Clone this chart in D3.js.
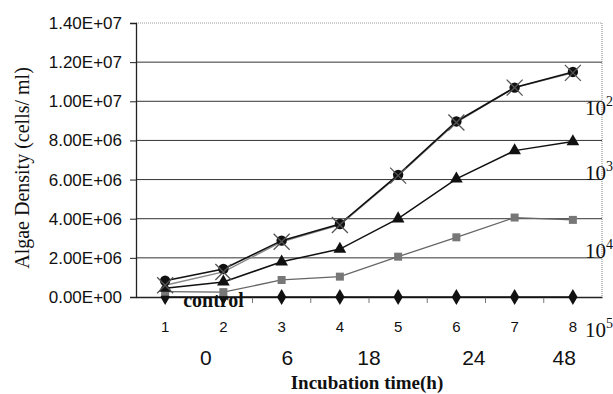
<!DOCTYPE html>
<html>
<head>
<meta charset="utf-8">
<script src="https://cdn.jsdelivr.net/npm/d3@7"></script>
<style>
  body { margin: 0; background: #fff; }
  svg { display: block; }
</style>
</head>
<body>
<script>
// sample number on the x axis, and the incubation hours written below it
let samples = ['1', '2', '3', '4', '5', '6', '7', '8']
let hourLabels = ['0', '6', '18', '24', '48']
let hourAt = [1.7, 3.1, 4.5, 6.3, 7.85]   // where each hour sits, in sample units

let yTicks = [0, 2e6, 4e6, 6e6, 8e6, 1e7, 1.2e7, 1.4e7]

// dilution series (cells/ml)
let circleSeries = [0.83e6, 1.43e6, 2.88e6, 3.73e6, 6.24e6, 8.97e6, 10.7e6, 11.5e6]
let crossSeries = [0.6e6, 1.28e6, 2.82e6, 3.68e6, 6.2e6, 8.92e6, 10.7e6, 11.45e6]
let triangleSeries = [0.45e6, 0.77e6, 1.8e6, 2.45e6, 4.0e6, 6.04e6, 7.48e6, 7.94e6]
let squareSeries = [0.27e6, 0.25e6, 0.87e6, 1.04e6, 2.06e6, 3.05e6, 4.06e6, 3.94e6]
let controlSeries = [0, 0, 0, 0, 0, 0, 0, 0]

// 10^n labels at the right edge, placed at a y value
let dilutionExp = ['2', '3', '4', '5']
let dilutionAt = [1.0e7, 6.7e6, 2.7e6, -1.33e6]

var margin = { top: 23, right: 11, bottom: 97, left: 136 },
    width = 613 - margin.left - margin.right,
    height = 394 - margin.top - margin.bottom

var svg = d3.select('body').append('svg')
    .attr('width', 613)
    .attr('height', 394)

var g = svg.append('g')
    .attr('transform', 'translate(' + margin.left + ',' + margin.top + ')')

var x = d3.scaleBand()
    .domain(samples)
    .range([0, width])

// continuous version of the band centres, for the hour row
var xs = d3.scaleLinear()
    .domain([1, samples.length])
    .range([x.bandwidth() / 2, width - x.bandwidth() / 2])

var y = d3.scaleLinear()
    .domain([0, 1.4e7])
    .range([height, 0])

var cx = d => x(d) + x.bandwidth() / 2

// gridlines
g.selectAll('.grid')
    .data(yTicks.slice(1, -1))
    .enter()
    .append('line')
    .attr('x1', 0)
    .attr('x2', width)
    .attr('y1', d => y(d))
    .attr('y2', d => y(d))
    .attr('stroke', '#333')
    .attr('stroke-width', 1)

// top and right border, dotted grey
g.append('path')
    .attr('d', 'M0,' + y(1.4e7) + 'H' + width + 'V' + height)
    .attr('fill', 'none')
    .attr('stroke', '#999')
    .attr('stroke-width', 1.2)
    .attr('stroke-dasharray', '1,1')

// y axis
var yAxis = d3.axisLeft(y)
    .tickValues(yTicks)
    .tickSize(6)
    .tickPadding(8)
    .tickFormat(d => d.toExponential(2).replace('e+', 'E+').replace(/E\+(\d)$/, 'E+0$1'))

g.append('g')
    .attr('class', 'y axis')
    .call(yAxis)
    .call(s => s.select('.domain').attr('stroke', '#222').attr('stroke-width', 1.3))
    .call(s => s.selectAll('.tick line').attr('stroke', '#222'))
    .call(s => s.selectAll('text')
        .attr('font-family', 'Liberation Sans, Arial, sans-serif')
        .attr('font-size', 17)
        .attr('fill', '#111'))

// x axis
var xAxis = d3.axisBottom(x)
    .tickSize(0)
    .tickPadding(24)

g.append('g')
    .attr('class', 'x axis')
    .attr('transform', 'translate(0,' + height + ')')
    .call(xAxis)
    .call(s => s.select('.domain').attr('stroke', '#222').attr('stroke-width', 1.5))
    .call(s => s.selectAll('text')
        .attr('font-family', 'Liberation Sans, Arial, sans-serif')
        .attr('font-size', 15)
        .attr('fill', '#111'))

// little ticks at the band edges
g.selectAll('.btick')
    .data(samples.slice(1))
    .enter()
    .append('line')
    .attr('x1', d => x(d))
    .attr('x2', d => x(d))
    .attr('y1', height)
    .attr('y2', height + 6)
    .attr('stroke', '#777')

var line = d3.line()
    .x((d, i) => cx(samples[i]))
    .y(d => y(d))

function drawLine(data, color, w) {
    g.append('path')
        .datum(data)
        .attr('d', line)
        .attr('fill', 'none')
        .attr('stroke', color)
        .attr('stroke-width', w)
}

drawLine(controlSeries, '#111', 1.5)
drawLine(squareSeries, '#666', 1.3)
drawLine(triangleSeries, '#111', 1.5)
drawLine(crossSeries, '#888', 1.4)
drawLine(circleSeries, '#111', 1.6)

function markers(data, type, size, fill) {
    g.selectAll(null)
        .data(data)
        .enter()
        .append('path')
        .attr('d', d3.symbol().type(type).size(size))
        .attr('transform', (d, i) => 'translate(' + cx(samples[i]) + ',' + y(d) + ')')
        .attr('fill', fill)
}

markers(controlSeries, d3.symbolDiamond, 75, '#111')
markers(squareSeries, d3.symbolSquare, 64, '#777')
markers(triangleSeries, d3.symbolTriangle, 70, '#111')
markers(circleSeries, d3.symbolCircle, 85, '#111')

// X markers of the second series
g.selectAll(null)
    .data(crossSeries)
    .enter()
    .append('path')
    .attr('d', 'M-8,-8L8,8M-8,8L8,-8')
    .attr('transform', (d, i) => 'translate(' + cx(samples[i]) + ',' + y(d) + ')')
    .attr('stroke', '#555')
    .attr('stroke-width', 1.3)

// "control" label
g.append('text')
    .attr('x', cx('1') + 18)
    .attr('y', height + 10)
    .attr('font-family', 'Liberation Serif, Times New Roman, serif')
    .attr('font-weight', 'bold')
    .attr('font-size', 20)
    .attr('fill', '#111')
    .text('control')

// dilution labels 10^n on the right
var dl = g.selectAll('.dl')
    .data(dilutionExp)
    .enter()
    .append('text')
    .attr('x', width - 17)
    .attr('y', (d, i) => y(dilutionAt[i]) + 14)
    .attr('font-family', 'Liberation Serif, Times New Roman, serif')
    .attr('font-size', 21)
    .attr('fill', '#111')
dl.append('tspan').text('10')
dl.append('tspan')
    .attr('dy', -9)
    .attr('font-size', 14)
    .text(d => d)

// incubation hours row
g.selectAll('.hr')
    .data(hourLabels)
    .enter()
    .append('text')
    .attr('x', (d, i) => xs(hourAt[i]))
    .attr('y', height + 68)
    .attr('text-anchor', 'middle')
    .attr('font-family', 'Liberation Sans, Arial, sans-serif')
    .attr('font-size', 21)
    .attr('fill', '#111')
    .text(d => d)

// axis titles
svg.append('text')
    .attr('x', 367)
    .attr('y', 389)
    .attr('text-anchor', 'middle')
    .attr('font-family', 'Liberation Serif, Times New Roman, serif')
    .attr('font-weight', 'bold')
    .attr('font-size', 19)
    .attr('fill', '#111')
    .text('Incubation time(h)')

svg.append('text')
    .attr('transform', 'translate(29,168) rotate(-90)')
    .attr('text-anchor', 'middle')
    .attr('font-family', 'Liberation Serif, Times New Roman, serif')
    .attr('font-size', 20)
    .attr('fill', '#111')
    .text('Algae Density (cells/ ml)')
</script>
</body>
</html>
